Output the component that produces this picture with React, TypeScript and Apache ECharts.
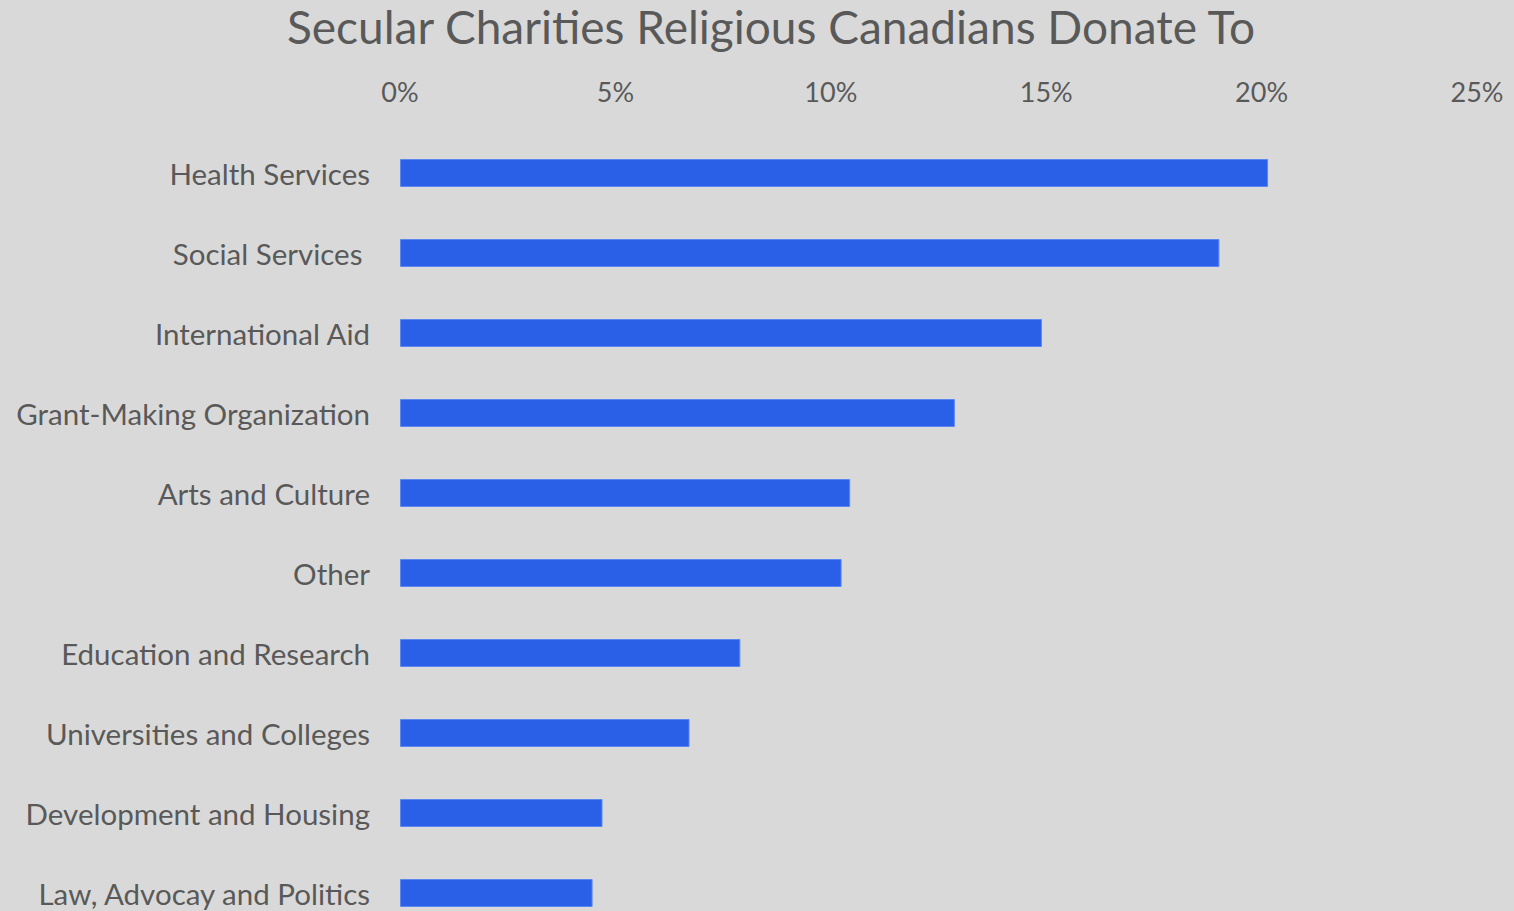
import React, { useEffect, useRef } from "react";
import * as echarts from "echarts";

const categories = [
  "Health Services",
  "Social Services ",
  "International Aid",
  "Grant-Making Organization",
  "Arts and Culture",
  "Other",
  "Education and Research",
  "Universities and Colleges",
  "Development and Housing",
  "Law, Advocay and Politics",
];
const values = [20.15, 19.02, 14.9, 12.88, 10.45, 10.25, 7.9, 6.72, 4.7, 4.47];
const xTicks = [0, 5, 10, 15, 20, 25];
const titleText = "Secular Charities Religious Canadians Donate To";

const FONT = "Lato, 'Open Sans', sans-serif";
const GREY = "#595959";

export default function App() {
  const ref = useRef<HTMLDivElement>(null);
  useEffect(() => {
    if (!ref.current) return;
    const chart = echarts.init(ref.current, null, { renderer: "svg" });
    chart.setOption({
      animation: false,
      backgroundColor: "#d9d9d9",
      title: {
        text: titleText,
        left: 766,
        textAlign: "center",
        top: -2,
        textStyle: { fontFamily: FONT, fontSize: 46, fontWeight: "normal", color: GREY },
      },
      grid: { left: 400, right: 37, top: 133, height: 800 },
      xAxis: {
        type: "value",
        position: "top",
        min: xTicks[0],
        max: xTicks[xTicks.length - 1],
        interval: 5,
        axisLine: { show: false },
        axisTick: { show: false },
        splitLine: { show: false },
        axisLabel: {
          formatter: (v: number) => `${v}%`,
          fontFamily: FONT,
          fontSize: 27,
          color: GREY,
          margin: 28,
        },
      },
      yAxis: {
        type: "category",
        inverse: true,
        data: categories,
        axisLine: { show: false },
        axisTick: { show: false },
        axisLabel: {
          fontFamily: FONT,
          fontSize: 29.5,
          color: GREY,
          margin: 30,
        },
      },
      series: [
        {
          type: "bar",
          data: values,
          barWidth: 28,
          itemStyle: { color: "#2a5fe8", borderColor: "#5a86f0", borderWidth: 1 },
        },
      ],
    });
    return () => chart.dispose();
  }, []);
  return (
    <div
      ref={ref}
      style={{ position: "fixed", left: 0, top: 0, width: 1514, height: 960 }}
    />
  );
}
